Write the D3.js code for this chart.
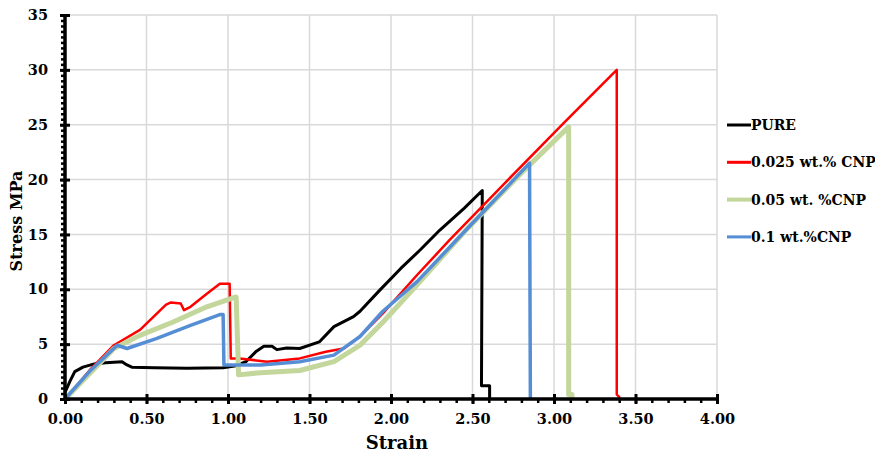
<!DOCTYPE html>
<html>
<head>
<meta charset="utf-8">
<script src="https://cdn.jsdelivr.net/npm/d3@7"></script>
<style>
  html, body { margin: 0; padding: 0; background: #fff; }
  svg { display: block; font-family: "DejaVu Serif", serif; font-weight: bold; }
</style>
</head>
<body>
<svg id="chart" width="875" height="453"></svg>
<script>
// ── Data (strain, stress MPa) ─────────────────────────────────────────────────
const seriesNames  = ['PURE', '0.025 wt.% CNP', '0.05 wt. %CNP', '0.1 wt.%CNP'];
const seriesColors = ['#000000', '#ff0000', '#c3d69b', '#558ed5'];
const seriesWidths = [3, 2.5, 5, 3.5];

const purePts = [
  [0, 0.6], [0.03, 1.6], [0.06, 2.5], [0.11, 2.9], [0.18, 3.2], [0.25, 3.3], [0.35, 3.4],
  [0.38, 3.1], [0.41, 2.9], [0.55, 2.85], [0.75, 2.8], [0.97, 2.85], [1.04, 3.0],
  [1.11, 3.4], [1.17, 4.3], [1.22, 4.8], [1.27, 4.8], [1.30, 4.5], [1.36, 4.65], [1.44, 4.6],
  [1.56, 5.2], [1.65, 6.6], [1.77, 7.5], [1.81, 8.0], [1.93, 9.9], [2.06, 11.9],
  [2.18, 13.6], [2.30, 15.4], [2.45, 17.4], [2.56, 19.0], [2.555, 1.2], [2.605, 1.2], [2.605, 0]
];
const cnp025Pts = [
  [0, 0], [0.15, 2.6], [0.30, 4.9], [0.46, 6.3], [0.62, 8.6], [0.65, 8.8], [0.71, 8.7],
  [0.73, 8.1], [0.77, 8.4], [0.87, 9.6], [0.95, 10.5], [1.01, 10.5], [1.017, 3.7],
  [1.07, 3.7], [1.24, 3.4], [1.44, 3.7], [1.60, 4.3], [1.71, 4.6], [1.81, 5.7],
  [1.95, 7.8], [2.16, 11.3], [2.36, 14.5], [2.70, 19.7], [3.05, 25.0], [3.385, 30.0],
  [3.385, 0.4], [3.40, 0.2], [3.40, 0]
];
const cnp05Pts = [
  [0, 0], [0.15, 2.3], [0.30, 4.6], [0.46, 5.8], [0.66, 7.0], [0.87, 8.4], [1.05, 9.3],
  [1.065, 2.2], [1.20, 2.4], [1.44, 2.6], [1.65, 3.4], [1.81, 4.9], [1.95, 7.0],
  [2.16, 10.4], [2.46, 15.4], [2.80, 20.6], [3.09, 24.8], [3.09, 0.4], [3.11, 0.4], [3.11, 0]
];
const cnp01Pts = [
  [0, 0], [0.15, 2.5], [0.32, 4.9], [0.38, 4.6], [0.56, 5.5], [0.77, 6.7], [0.95, 7.7],
  [0.97, 7.7], [0.975, 3.1], [1.20, 3.1], [1.44, 3.4], [1.65, 4.0], [1.81, 5.7],
  [1.95, 8.0], [2.16, 10.7], [2.46, 15.4], [2.85, 21.5], [2.855, 0]
];
const seriesData = [purePts, cnp025Pts, cnp05Pts, cnp01Pts];

const xTicks = [0, 0.5, 1, 1.5, 2, 2.5, 3, 3.5, 4];
const yTicks = [0, 5, 10, 15, 20, 25, 30, 35];

// ── Layout ────────────────────────────────────────────────────────────────────
const plot = { left: 65, right: 717, top: 15, bottom: 399 };

const svg = d3.select('#chart');
const x = d3.scaleLinear().domain([0, 4]).range([plot.left, plot.right]);
const y = d3.scaleLinear().domain([0, 35]).range([plot.bottom, plot.top]);

// ── Gridlines ─────────────────────────────────────────────────────────────────
const grid = svg.append('g').attr('stroke', '#d9d9d9').attr('stroke-width', 1.5);
grid.selectAll('.gx').data(xTicks.slice(1)).join('line')
  .attr('x1', d => x(d)).attr('x2', d => x(d))
  .attr('y1', plot.top).attr('y2', plot.bottom);
grid.selectAll('.gy').data(yTicks.slice(1)).join('line')
  .attr('x1', plot.left).attr('x2', plot.right)
  .attr('y1', d => y(d)).attr('y2', d => y(d));

// ── Series ────────────────────────────────────────────────────────────────────
const line = d3.line().x(d => x(d[0])).y(d => y(d[1]));
svg.append('g').selectAll('path')
  .data(seriesData)
  .join('path')
  .attr('fill', 'none')
  .attr('stroke', (d, i) => seriesColors[i])
  .attr('stroke-width', (d, i) => seriesWidths[i])
  .attr('stroke-linejoin', 'round')
  .attr('d', line);

// ── Axes ──────────────────────────────────────────────────────────────────────
const xMinor = d3.range(0, 4.0001, 0.1);
const yMinor = d3.range(0, 35.0001, 0.5);

const xAxisG = svg.append('g').attr('transform', `translate(0,${plot.bottom})`);
xAxisG.call(d3.axisBottom(x).tickValues(xMinor).tickSize(4).tickFormat(''));
xAxisG.call(g => g.selectAll('.tick line').attr('stroke-width', 2.5));
xAxisG.call(g => g.select('.domain').remove());

const xMajor = svg.append('g').attr('transform', `translate(0,${plot.bottom})`);
xMajor.call(d3.axisBottom(x).tickValues(xTicks).tickSizeInner(5).tickSizeOuter(0)
  .tickPadding(10).tickFormat(d3.format('.2f')));
xMajor.select('.domain').attr('stroke-width', 3.5).attr('d', `M${plot.left},0H${plot.right}`);
xMajor.selectAll('.tick line').attr('y1', -5).attr('y2', 5).attr('stroke-width', 3);
xMajor.selectAll('.tick text').attr('font-size', 14.5).attr('font-weight', 'bold')
  .attr('font-family', '"DejaVu Serif", serif').attr('fill', '#000');

const yAxisG = svg.append('g').attr('transform', `translate(${plot.left},0)`);
yAxisG.call(d3.axisLeft(y).tickValues(yMinor).tickSize(4).tickFormat(''));
yAxisG.call(g => g.selectAll('.tick line').attr('stroke-width', 2.5));
yAxisG.call(g => g.select('.domain').remove());

const yMajor = svg.append('g').attr('transform', `translate(${plot.left},0)`);
yMajor.call(d3.axisLeft(y).tickValues(yTicks).tickSizeInner(5).tickSizeOuter(0).tickPadding(12));
yMajor.select('.domain').attr('stroke-width', 3.5).attr('d', `M0,${plot.bottom}V${plot.top}`);
yMajor.selectAll('.tick line').attr('x1', -5).attr('x2', 5).attr('stroke-width', 3);
yMajor.selectAll('.tick text').attr('font-size', 14.5).attr('font-weight', 'bold')
  .attr('font-family', '"DejaVu Serif", serif').attr('fill', '#000');

// ── Axis titles ───────────────────────────────────────────────────────────────
svg.append('text')
  .attr('x', 397).attr('y', 449)
  .attr('text-anchor', 'middle').attr('font-size', 18)
  .text('Strain');

svg.append('text')
  .attr('transform', 'translate(22,221) rotate(-90)')
  .attr('text-anchor', 'middle').attr('font-size', 16)
  .text('Stress MPa');

// ── Legend ────────────────────────────────────────────────────────────────────
const legend = svg.append('g').attr('transform', 'translate(727,125)');
const items = legend.selectAll('g').data(seriesNames).join('g')
  .attr('transform', (d, i) => `translate(0,${i * 37.3})`);
items.append('line')
  .attr('x1', 0).attr('x2', 24)
  .attr('stroke', (d, i) => seriesColors[i])
  .attr('stroke-width', (d, i) => i === 2 ? 4 : 3);
items.append('text')
  .attr('x', 24).attr('dy', '0.35em')
  .attr('font-size', 14)
  .text(d => d);
</script>
</body>
</html>
